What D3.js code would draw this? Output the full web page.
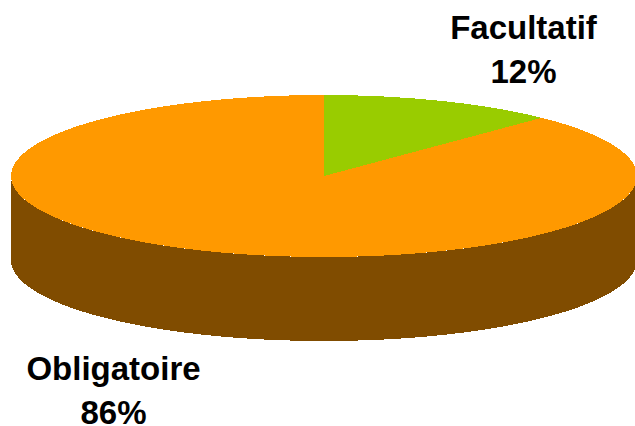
<!DOCTYPE html>
<html><head><meta charset="utf-8">
<script src="https://cdn.jsdelivr.net/npm/d3@7"></script>
<style>html,body{margin:0;padding:0;background:#fff}svg{display:block}</style>
</head><body><svg id="c" width="635" height="426"></svg>
<script>
const categories = ["Facultatif", "Obligatoire"];
const values = [12, 86];
const labels = ["12%", "86%"];
const colors = ["#99cc00", "#ff9900"];
const sideColor = "#804c00";

const W = 635, H = 426, cx = 324, cy = 176, rx = 313, ry = 81, depth = 84;
const svg = d3.select("#c");
const pie = d3.pie().sort(null)(values);
const arc = d3.arc().innerRadius(0).outerRadius(rx);

// side wall: lower half of the rim, extruded
const a = d3.range(0, 181, 1).map(d => d * Math.PI / 180);
const rim = a.map(t => [cx + rx * Math.cos(t), cy + ry * Math.sin(t)]);
const side = d3.area().x(d => d[0]).y0(d => d[1]).y1(d => d[1] + depth);
svg.append("path").attr("d", side(rim)).attr("fill", sideColor).attr("shape-rendering", "crispEdges");

// top face
svg.append("g").attr("transform", `translate(${cx},${cy}) scale(1,${ry / rx})`)
  .selectAll("path").data(pie).join("path")
  .attr("d", arc).attr("fill", (d, i) => colors[i]).attr("shape-rendering", "crispEdges");

// labels
const pos = [[523.5, 39], [113.5, 380]];
const t = svg.selectAll("text.l").data(categories).join("text")
  .attr("text-anchor", "middle")
  .attr("font-family", "Liberation Sans, Arial, sans-serif")
  .attr("font-weight", "bold").attr("font-size", 33).attr("fill", "#000");
t.append("tspan").attr("x", (d, i) => pos[i][0]).attr("y", (d, i) => pos[i][1]).text(d => d);
t.append("tspan").attr("x", (d, i) => pos[i][0]).attr("y", (d, i) => pos[i][1] + 44).text((d, i) => labels[i]);
</script></body></html>
